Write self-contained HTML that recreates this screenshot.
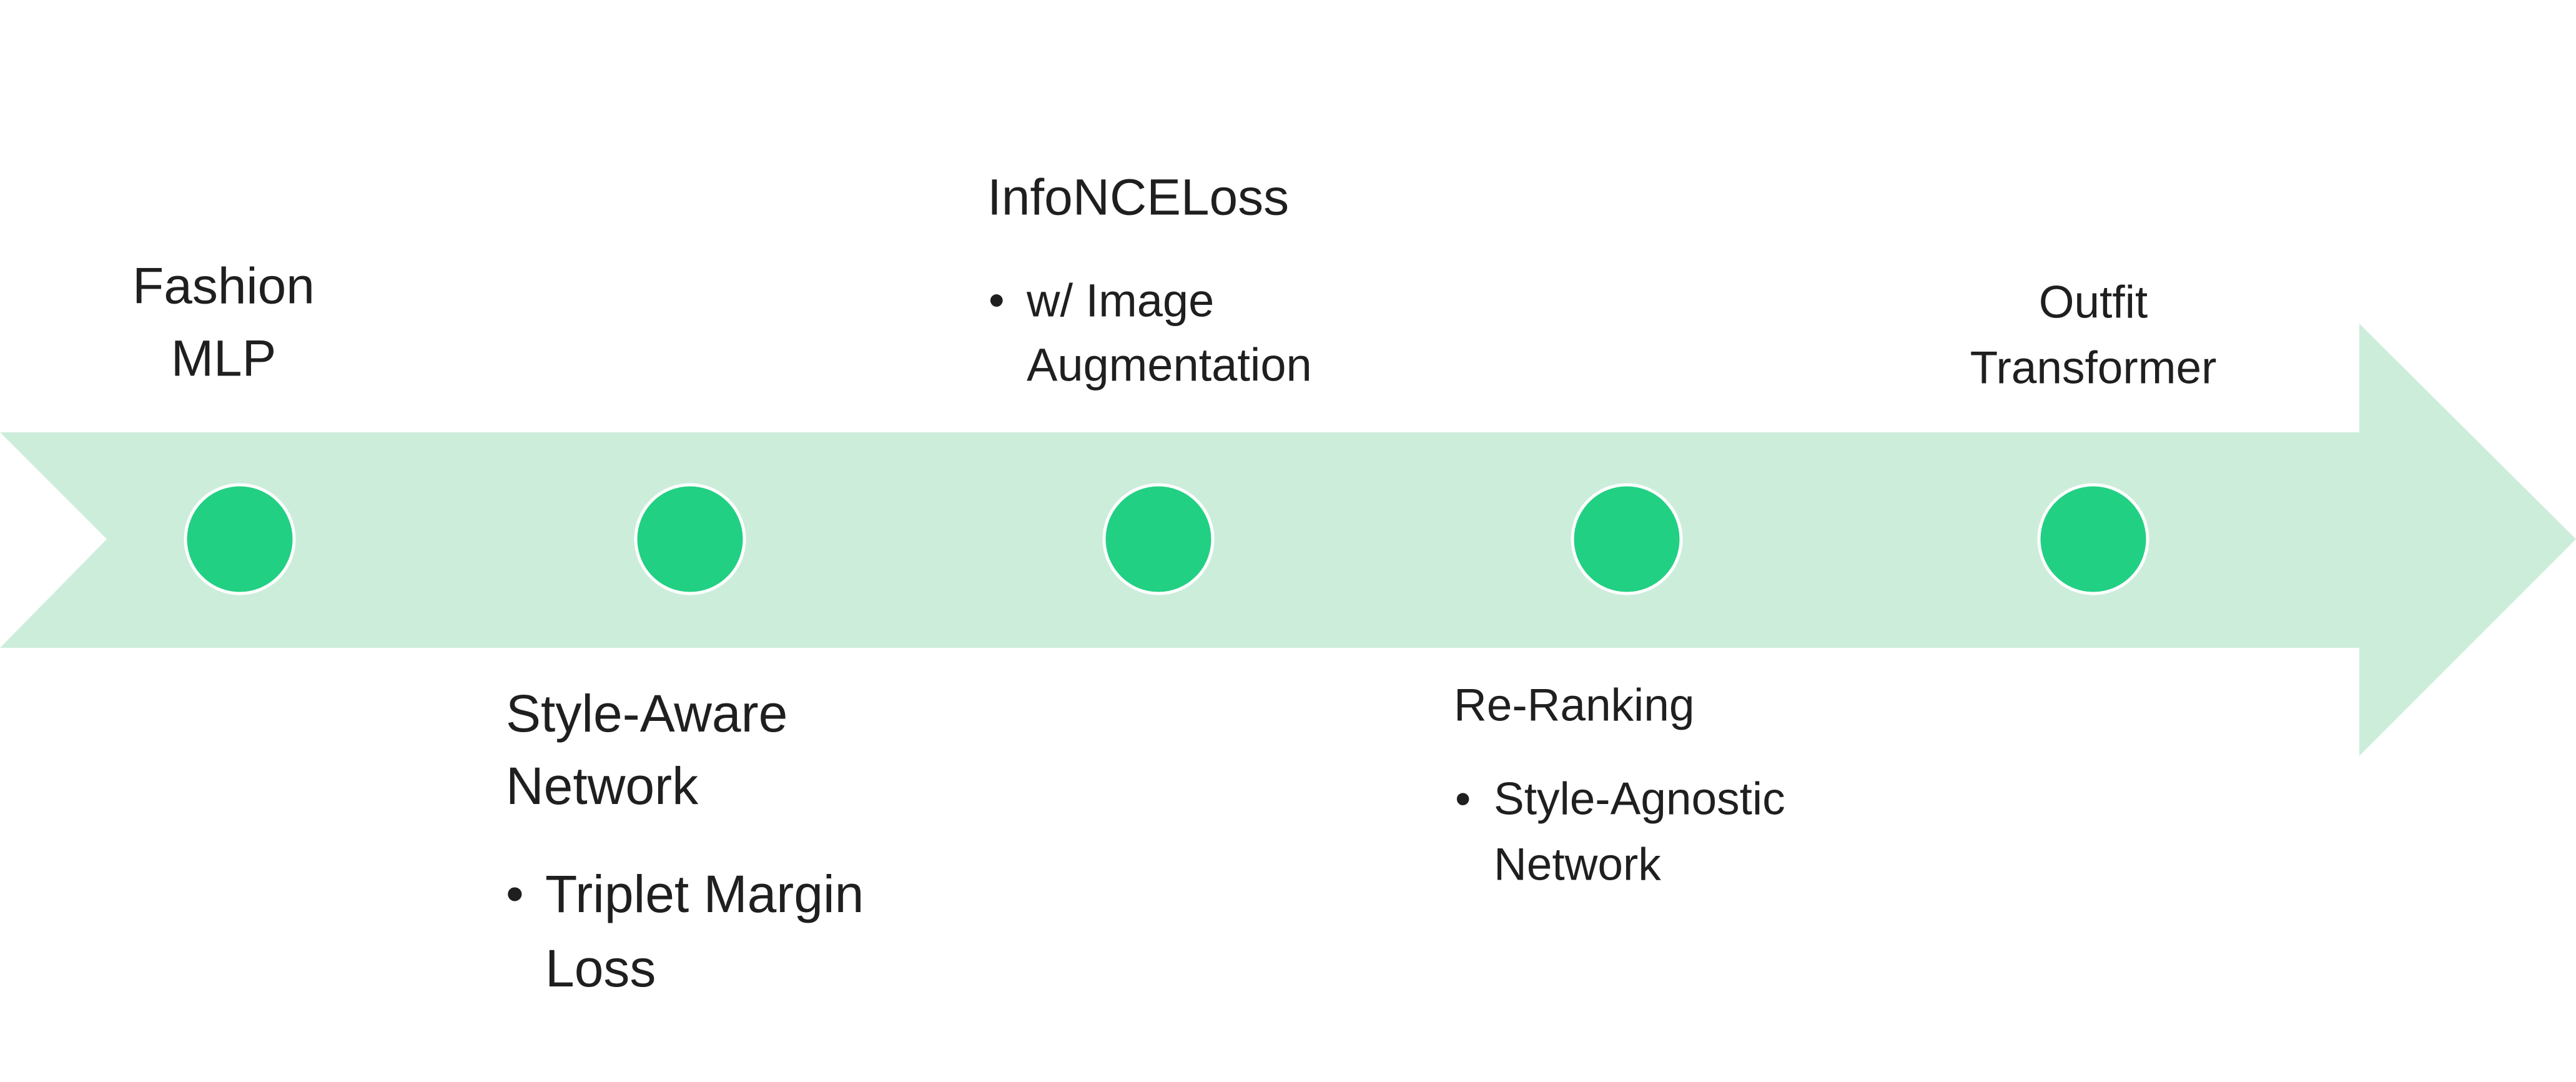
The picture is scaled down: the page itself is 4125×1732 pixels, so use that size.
<!DOCTYPE html>
<html><head><meta charset="utf-8"><style>html,body{margin:0;padding:0;background:#fff}svg{display:block}</style></head>
<body>
<svg width="4125" height="1732" viewBox="0 0 4125 1732" xmlns="http://www.w3.org/2000/svg">
<rect width="4125" height="1732" fill="#fff"/>
<polygon points="0,692 3778,692 3778,518 4125,863 3778,1210 3778,1037 0,1037 171,863" fill="#cdeddb"/>
<g fill="#22d083" stroke="#fff" stroke-width="5">
<circle cx="384" cy="863" r="87"/>
<circle cx="1105" cy="863" r="87"/>
<circle cx="1855" cy="863" r="87"/>
<circle cx="2605" cy="863" r="87"/>
<circle cx="3352" cy="863" r="87"/>
</g>
<g font-family="Liberation Sans, sans-serif" fill="#1f1f1f" dominant-baseline="central">
<text x="358" y="458" font-size="82" text-anchor="middle">Fashion</text>
<text x="358" y="574" font-size="82" text-anchor="middle">MLP</text>
<text x="1581" y="316" font-size="82">InfoNCELoss</text>
<text x="1583" y="481" font-size="73">•</text>
<text x="1644" y="481" font-size="74">w/ Image</text>
<text x="1644" y="584" font-size="74">Augmentation</text>
<text x="810" y="1142" font-size="84">Style-Aware</text>
<text x="810" y="1258" font-size="84">Network</text>
<text x="810" y="1431" font-size="82">•</text>
<text x="873" y="1431" font-size="84">Triplet Margin</text>
<text x="873" y="1550" font-size="84">Loss</text>
<text x="3352" y="484" font-size="73" text-anchor="middle">Outfit</text>
<text x="3352" y="589" font-size="73" text-anchor="middle">Transformer</text>
<text x="2328" y="1129" font-size="73">Re-Ranking</text>
<text x="2330" y="1279" font-size="72">•</text>
<text x="2392" y="1279" font-size="73">Style-Agnostic</text>
<text x="2392" y="1384" font-size="73">Network</text>
</g>
</svg>
</body></html>
